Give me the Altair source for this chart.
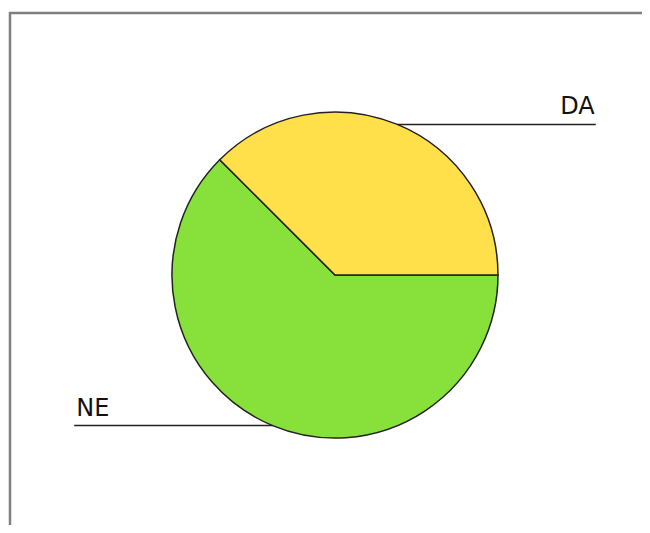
import altair as alt
import numpy as np
import pandas as pd

# data
labels = ["NE", "DA"]
values = [5, 3]
colors = ["#88e03a", "#ffe04a"]

# styles / layout (pixels)
W, H = 634, 517
CX, CY = 327, 267          # pie centre inside the view
R = 163                    # pie radius
LEAD = 1.6                 # leader line reach, in radii

total = sum(values)
# yellow (DA) starts at 3 o'clock and runs counter-clockwise
frac = {l: v / total for l, v in zip(labels, values)}
mid = {}
mid["DA"] = np.pi * frac["DA"]
mid["NE"] = 2 * np.pi * frac["DA"] + np.pi * frac["NE"]

pie_df = pd.DataFrame({"label": labels, "value": values, "ord": list(range(len(labels)))})

rows = []
for l in labels:
    a = mid[l]
    x0 = R * np.cos(a)
    y = R * np.sin(a)
    x1 = np.sign(np.cos(a)) * LEAD * R
    rows.append({"label": l, "x0": x0, "x1": x1, "y": y,
                 "tx": x1, "align": "right" if x1 > 0 else "left"})
lab_df = pd.DataFrame(rows)

xs = alt.Scale(domain=[-CX, W - CX], nice=False, zero=False)
ys = alt.Scale(domain=[-(H - CY), CY], nice=False, zero=False)

pie = alt.Chart(pie_df).mark_arc(stroke="#222222", strokeWidth=1.5, radius=R).encode(
    theta=alt.Theta("value:Q", stack=True,
                    scale=alt.Scale(range=[np.pi / 2, np.pi / 2 + 2 * np.pi])),
    order=alt.Order("ord:Q"),
    color=alt.Color("label:N", scale=alt.Scale(domain=labels, range=colors), legend=None),
    x=alt.value(CX), y=alt.value(CY),
)

lines = alt.Chart(lab_df).mark_rule(color="#222222", strokeWidth=1.5).encode(
    x=alt.X("x0:Q", scale=xs, axis=None),
    x2="x1:Q",
    y=alt.Y("y:Q", scale=ys, axis=None),
)

txt_r = alt.Chart(lab_df[lab_df["align"] == "right"]).mark_text(
    align="right", baseline="bottom", dy=-5, dx=-1, fontSize=24,
    font="DejaVu Sans", color="#111111").encode(
    x=alt.X("tx:Q", scale=xs, axis=None), y=alt.Y("y:Q", scale=ys, axis=None), text="label:N")
txt_l = alt.Chart(lab_df[lab_df["align"] == "left"]).mark_text(
    align="left", baseline="bottom", dy=-5, dx=2, fontSize=24,
    font="DejaVu Sans", color="#111111").encode(
    x=alt.X("tx:Q", scale=xs, axis=None), y=alt.Y("y:Q", scale=ys, axis=None), text="label:N")

one = pie_df.head(1)
frame_top = alt.Chart(one).mark_rule(stroke="#7f7f7f", strokeWidth=2.5).encode(
    x=alt.value(1), x2=alt.value(W + 20), y=alt.value(5))
frame_left = alt.Chart(one).mark_rule(stroke="#7f7f7f", strokeWidth=2.5).encode(
    x=alt.value(2), y=alt.value(4), y2=alt.value(H + 20))

chart = alt.layer(frame_top, frame_left, pie, lines, txt_r, txt_l).properties(
    width=W, height=H, padding=0, autosize=alt.AutoSizeParams(type="none"),
).configure_view(stroke=None)

chart.save("out.html", embed_options={"renderer": "svg", "actions": False})
